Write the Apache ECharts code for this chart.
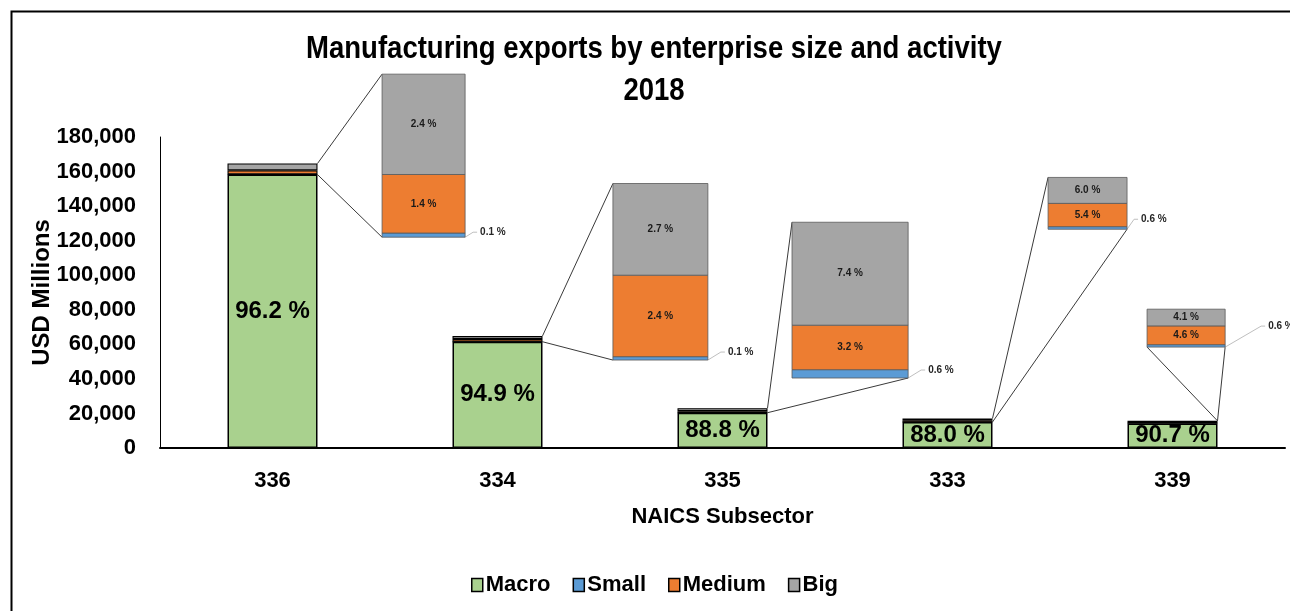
<!DOCTYPE html>
<html>
<head>
<meta charset="utf-8">
<script src="https://cdn.jsdelivr.net/npm/echarts@6/dist/echarts.min.js"></script>
<style>
html,body{margin:0;padding:0;background:#fff;}
#chart{width:1290px;height:611px;}
</style>
</head>
<body>
<div id="chart"></div>
<script>
// ---- data ----
const categories = ['336', '334', '335', '333', '339'];
const totals     = [164500, 64800, 23000, 17100, 15700];   // USD millions
const macroPct   = [96.2, 94.9, 88.8, 88.0, 90.7];
const smallPct   = [0.1, 0.1, 0.6, 0.6, 0.6];
const mediumPct  = [1.4, 2.4, 3.2, 5.4, 4.6];
const bigPct     = [2.4, 2.7, 7.4, 6.0, 4.1];
const seriesNames = ['Macro', 'Small', 'Medium', 'Big'];
const yMax = 180000, yStep = 20000;

// ---- layout / style (not data) ----
const colors = { Macro: '#A9D18E', Small: '#5B9BD5', Medium: '#ED7D31', Big: '#A5A5A5' };
const FONT = "Arial, 'Liberation Sans', sans-serif";
const barFrac = 0.4;
// magnified boxes: left/width in category units, bottom in axis value units, perPct = axis units per percent
const zoomBoxes = [
  { left: 0.987, width: 0.369, bottom: 122000, perPct: 24200, links: [['top','tl'], ['macro','bl']], leader: [12, -5] },
  { left: 2.013, width: 0.422, bottom: 50900,  perPct: 19650, links: [['top','tl'], ['macro','bl']], leader: [17, -8] },
  { left: 2.809, width: 0.516, bottom: 40500,  perPct: 8050,  links: [['top','tl'], ['macro','br']], leader: [17, -8] },
  { left: 3.947, width: 0.351, bottom: 126600, perPct: 2500,  links: [['top','tl'], ['macro','br']], leader: [11, -10] },
  { left: 4.387, width: 0.347, bottom: 58400,  perPct: 2360,  links: [['top','bl'], ['top','br']],   leader: [40, -21] }
];

const pctBy = { Macro: macroPct, Small: smallPct, Medium: mediumPct, Big: bigPct };

function renderZoom(params, api) {
  const i = params.dataIndex;
  const b = zoomBoxes[i];
  const children = [];
  const x0 = api.coord([b.left, 0])[0];
  const x1 = api.coord([b.left + b.width, 0])[0];
  let base = b.bottom;
  const yBottom = api.coord([0, base])[1];
  ['Small', 'Medium', 'Big'].forEach(function (name) {
    const p = pctBy[name][i];
    const yb = api.coord([0, base])[1];
    const yt = api.coord([0, base + p * b.perPct])[1];
    children.push({ type: 'rect', z2: 1,
      shape: { x: x0, y: yt, width: x1 - x0, height: yb - yt },
      style: { fill: colors[name], stroke: '#595959', lineWidth: 0.8 } });
    if (name !== 'Small') {
      children.push({ type: 'text', z2: 3,
        style: { text: p.toFixed(1) + ' %', x: (x0 + x1) / 2, y: (yt + yb) / 2,
          align: 'center', verticalAlign: 'middle', fontSize: 10, fontWeight: 'bold',
          fontFamily: FONT, fill: '#1a1a1a' } });
    }
    base += p * b.perPct;
  });
  const yTopBox = api.coord([0, base])[1];
  // main bar reference points
  const cx = api.coord([i + 0.5, 0])[0];
  const half = api.size([1, 0])[0] * barFrac / 2;
  const sumPct = macroPct[i] + smallPct[i] + mediumPct[i] + bigPct[i];
  const pts = {
    top:   [cx + half, api.coord([0, totals[i] * sumPct / 100])[1]],
    macro: [cx + half, api.coord([0, totals[i] * macroPct[i] / 100])[1]],
    tl: [x0, yTopBox], bl: [x0, yBottom], br: [x1, yBottom]
  };
  b.links.forEach(function (l) {
    children.push({ type: 'line', z2: 0,
      shape: { x1: pts[l[0]][0], y1: pts[l[0]][1], x2: pts[l[1]][0], y2: pts[l[1]][1] },
      style: { stroke: '#3a3a3a', lineWidth: 1 } });
  });
  // small share leader + label
  const lx = x1 + b.leader[0], ly = yBottom + b.leader[1];
  children.push({ type: 'polyline', z2: 0,
    shape: { points: [[x1, yBottom], [lx - 4, ly], [lx, ly]] },
    style: { stroke: '#bfbfbf', lineWidth: 1, fill: null } });
  children.push({ type: 'text', z2: 3,
    style: { text: smallPct[i].toFixed(1) + ' %', x: lx + 3, y: ly,
      align: 'left', verticalAlign: 'middle', fontSize: 10, fontWeight: 'bold',
      fontFamily: FONT, fill: '#262626' } });
  return { type: 'group', children: children };
}

const barSeries = seriesNames.map(function (name) {
  const s = {
    name: name, type: 'bar', stack: 'total', barWidth: (barFrac * 100) + '%',
    xAxisIndex: 0, yAxisIndex: 0,
    itemStyle: { color: colors[name], borderColor: '#000', borderWidth: name === 'Macro' ? 1.5 : 1.1 },
    data: totals.map(function (t, i) { return t * pctBy[name][i] / 100; })
  };
  if (name === 'Macro') {
    s.label = { show: true, position: 'inside', color: '#000', fontSize: 24, fontWeight: 'bold',
      fontFamily: FONT,
      formatter: function (p) { return macroPct[p.dataIndex].toFixed(1) + ' %'; } };
  }
  return s;
});

const titleStyle = { align: 'center', verticalAlign: 'middle', fontSize: 32, fontWeight: 'bold', fontFamily: FONT, fill: '#000' };

const chart = echarts.init(document.getElementById('chart'), null, { renderer: 'canvas' });
chart.setOption({
  animation: false,
  backgroundColor: '#fff',
  graphic: [
    { type: 'rect', left: 9, top: 9, shape: { width: 1300, height: 620 },
      style: { fill: null, stroke: '#000', lineWidth: 2 }, silent: true },
    { type: 'group', x: 654, y: 49, scaleX: 0.86, children: [
      { type: 'text', x: 0, y: 0, style: Object.assign({ text: 'Manufacturing exports by enterprise size and activity' }, titleStyle) } ] },
    { type: 'group', x: 654, y: 91, scaleX: 0.86, children: [
      { type: 'text', x: 0, y: 0, style: Object.assign({ text: '2018' }, titleStyle) } ] }
  ],
  grid: { left: 160, right: 5, top: 137, bottom: 163, containLabel: false },
  legend: {
    data: seriesNames, left: 466, top: 569, itemWidth: 11, itemHeight: 13, itemGap: 22,
    icon: 'rect',
    itemStyle: { borderColor: '#000', borderWidth: 1.5 },
    textStyle: { fontSize: 22, fontWeight: 'bold', fontFamily: FONT, color: '#000', padding: [0, 0, 0, -2] }
  },
  xAxis: [
    { type: 'category', data: categories, gridIndex: 0,
      axisLine: { lineStyle: { color: '#000', width: 2 } }, axisTick: { show: false },
      axisLabel: { fontSize: 22, fontWeight: 'bold', fontFamily: FONT, color: '#000', margin: 22 },
      name: 'NAICS Subsector', nameLocation: 'middle', nameGap: 58, nameMoveOverlap: false,
      nameTextStyle: { fontSize: 22, fontWeight: 'bold', fontFamily: FONT, color: '#000' } },
    { type: 'value', min: 0, max: categories.length, gridIndex: 0, show: false }
  ],
  yAxis: [{
    type: 'value', min: 0, max: yMax, interval: yStep,
    axisLine: { show: true, lineStyle: { color: '#000', width: 1 } }, axisTick: { show: false },
    splitLine: { show: false },
    axisLabel: { fontSize: 22, fontWeight: 'bold', fontFamily: FONT, color: '#000', margin: 24,
      formatter: function (v) { return v.toLocaleString('en-US'); } },
    name: 'USD Millions', nameLocation: 'middle', nameGap: 106, nameRotate: 90, nameMoveOverlap: false,
    nameTextStyle: { fontSize: 24, fontWeight: 'bold', fontFamily: FONT, color: '#000' }
  }],
  series: barSeries.concat([{
    type: 'custom', name: 'zoom', xAxisIndex: 1, yAxisIndex: 0, clip: false, z: 3,
    renderItem: renderZoom,
    data: categories.map(function (c, i) { return [i + 0.5, totals[i]]; })
  }])
});
</script>
</body>
</html>
